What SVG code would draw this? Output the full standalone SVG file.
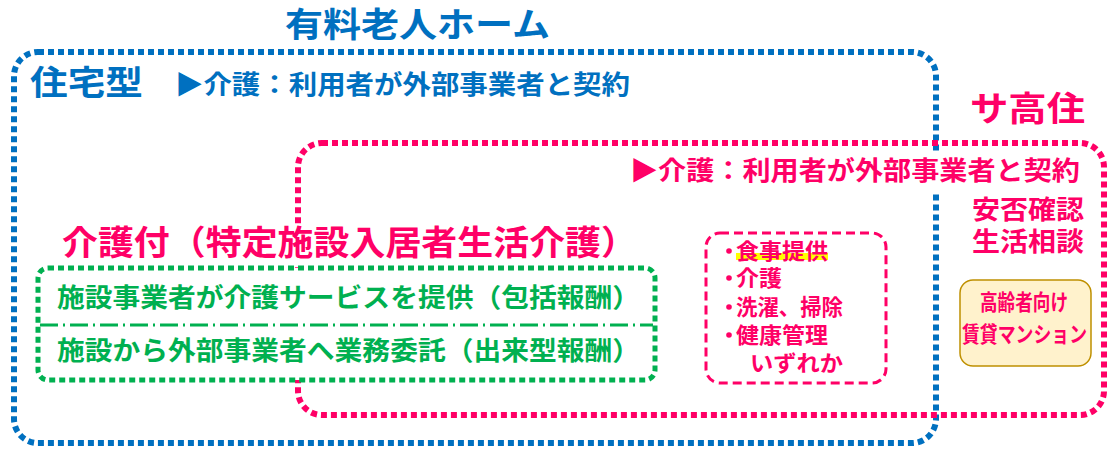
<svg xmlns="http://www.w3.org/2000/svg" width="1118" height="458" viewBox="0 0 1118 458">
<style>
text{font-family:"Noto Sans CJK JP","Noto Sans CJK SC",sans-serif;font-weight:bold}
.b{fill:#0070C0}.p{fill:#FF0066}.g{fill:#00B050}
.dot{fill:none;stroke-width:6;stroke-dasharray:6 4}
</style>
<rect width="1118" height="458" fill="#fff"/>
<g id="connectors"/>
<g id="yuryo">
<rect class="dot" x="14" y="52" width="922" height="391" rx="24" stroke="#0070C0"/>
<text class="b" x="285" y="37" font-size="34" textLength="265" lengthAdjust="spacingAndGlyphs">有料老人ホーム</text>
<text class="b" x="30" y="95" font-size="34" textLength="113" lengthAdjust="spacingAndGlyphs">住宅型</text>
<text class="b" x="175" y="94" font-size="26" textLength="455" lengthAdjust="spacingAndGlyphs">▶介護：利用者が外部事業者と契約</text>
</g>
<g id="sakoju">
<rect class="dot" x="298" y="143" width="806" height="272" rx="24" stroke="#FF0066"/>
<text class="p" x="970" y="121" font-size="34" textLength="115" lengthAdjust="spacingAndGlyphs">サ高住</text>
<rect x="625" y="153" width="460" height="40" fill="#fff"/>
<text class="p" x="630" y="180" font-size="26" textLength="450" lengthAdjust="spacingAndGlyphs">▶介護：利用者が外部事業者と契約</text>
<text class="p" x="972" y="219" font-size="26" textLength="112" lengthAdjust="spacingAndGlyphs">安否確認</text>
<text class="p" x="972" y="251" font-size="26" textLength="112" lengthAdjust="spacingAndGlyphs">生活相談</text>
</g>
<g id="mansion">
<rect x="960" y="280" width="131" height="86" rx="13" fill="#FFF2CC" stroke="#BF9000" stroke-width="1.5"/>
<text class="p" x="980" y="310" font-size="22" textLength="88" lengthAdjust="spacingAndGlyphs">高齢者向け</text>
<text class="p" x="962" y="342" font-size="22" textLength="125" lengthAdjust="spacingAndGlyphs">賃貸マンション</text>
</g>
<g id="services">
<rect x="706" y="233" width="180" height="150" rx="14" fill="#fff" stroke="#FF0066" stroke-width="3" stroke-dasharray="9 5"/>
<rect x="736" y="253" width="92" height="7" fill="#FFFF00"/>
<g class="p">
<circle cx="729" cy="251" r="2.8"/>
<circle cx="729" cy="278" r="2.8"/>
<circle cx="729" cy="307" r="2.8"/>
<circle cx="729" cy="335" r="2.8"/>
</g>
<text class="p" x="736" y="259" font-size="22" textLength="92" lengthAdjust="spacingAndGlyphs">食事提供</text>
<text class="p" x="736" y="286" font-size="22" textLength="46" lengthAdjust="spacingAndGlyphs">介護</text>
<text class="p" x="736" y="315" font-size="22" textLength="107" lengthAdjust="spacingAndGlyphs">洗濯、掃除</text>
<text class="p" x="736" y="343" font-size="22" textLength="92" lengthAdjust="spacingAndGlyphs">健康管理</text>
<text class="p" x="750" y="371" font-size="22" textLength="93" lengthAdjust="spacingAndGlyphs">いずれか</text>
</g>
<g id="kaigotsuki">
<rect x="58" y="224" width="584" height="40" fill="#fff"/>
<text class="p" x="62" y="255" font-size="34" textLength="575" lengthAdjust="spacingAndGlyphs">介護付（特定施設入居者生活介護）</text>
<rect x="38" y="268" width="617" height="112" rx="10" fill="#fff" stroke="#00B050" stroke-width="5" stroke-dasharray="6 4"/>
<line x1="40" y1="325" x2="653" y2="325" stroke="#00B050" stroke-width="3" stroke-dasharray="18 5 2 5"/>
<text class="g" x="57" y="307" font-size="26" textLength="583" lengthAdjust="spacingAndGlyphs">施設事業者が介護サービスを提供（包括報酬）</text>
<text class="g" x="57" y="360" font-size="26" textLength="583" lengthAdjust="spacingAndGlyphs">施設から外部事業者へ業務委託（出来型報酬）</text>
</g>
</svg>
